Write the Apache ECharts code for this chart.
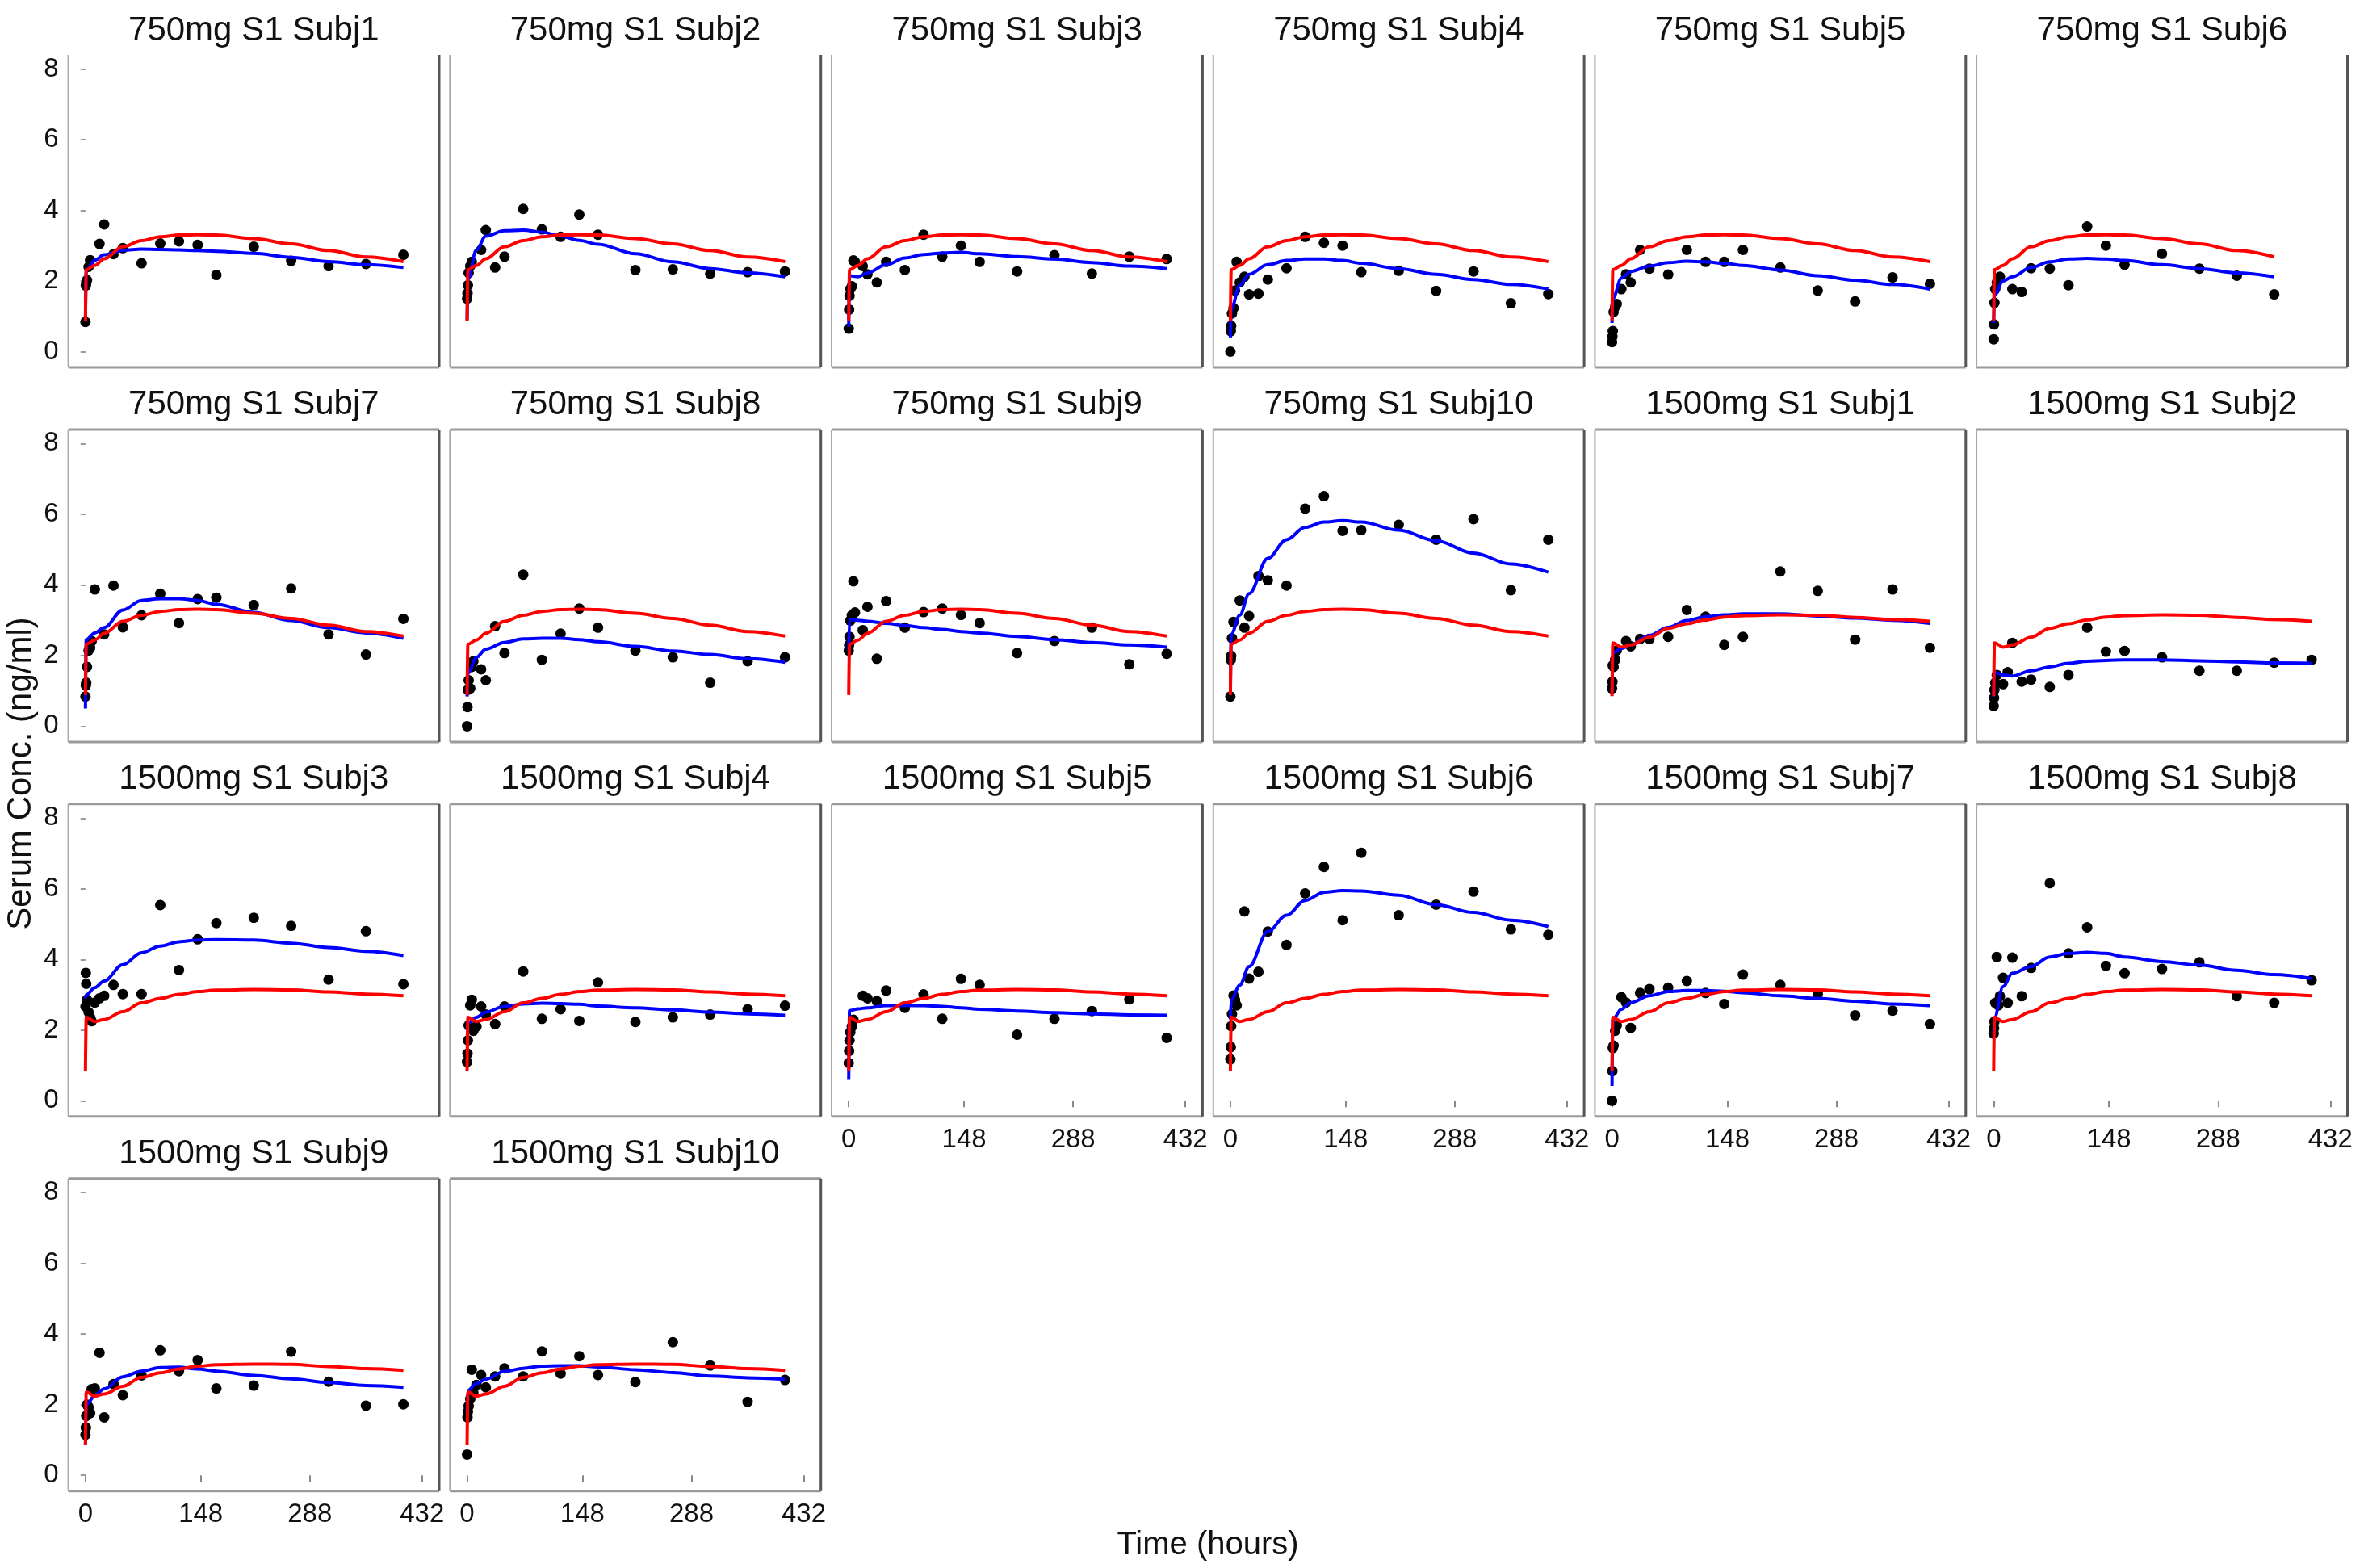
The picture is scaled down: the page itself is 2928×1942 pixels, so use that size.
<!DOCTYPE html>
<html><head><meta charset="utf-8">
<script src="https://cdn.jsdelivr.net/npm/echarts@6/dist/echarts.min.js"></script>
<style>html,body{margin:0;padding:0;background:#fff}#chart{width:2928px;height:1942px}</style>
</head><body><div id="chart"></div>
<script>
// sampling times (hours) of observed concentrations
const TIMES = [0, 0.5, 1, 2, 4, 6, 8, 12, 18, 24, 36, 48, 72, 96, 120, 144, 168, 216, 264, 312, 360, 408];
// times for the model curves
const LINE_T = [0, 1, 12, 24, 48, 72, 96, 120, 144, 168, 216, 264, 312, 360, 408];
const X_TICKS = [0, 148, 288, 432];
const Y_TICKS = [0, 2, 4, 6, 8];

// population predictions (red)
const POP_750  = [0.88, 2.32, 2.44, 2.63, 2.97, 3.14, 3.25, 3.30, 3.31, 3.30, 3.20, 3.05, 2.86, 2.68, 2.55];
const POP_1500 = [0.85, 2.36, 2.24, 2.30, 2.52, 2.77, 2.90, 3.01, 3.09, 3.13, 3.15, 3.14, 3.08, 3.02, 2.97];

// observed concentrations (black points)
const OBS_750_1  = [0.84, 1.87, 1.94, 2.02, 2.40, 2.59, null, null, 3.05, 3.60, 2.76, 2.93, 2.50, 3.06, 3.12, 3.02, 2.17, 2.97, 2.57, 2.42, 2.48, 2.74];
const OBS_750_2  = [1.50, 1.65, 1.88, 2.23, 2.42, 2.54, null, null, 2.88, 3.44, 2.38, 2.69, 4.04, 3.46, 3.25, 3.88, 3.31, 2.31, 2.33, 2.21, 2.25, 2.27];
const OBS_750_3  = [0.65, 1.19, 1.58, 1.77, 1.85, 2.58, 2.54, null, 2.42, 2.19, 1.96, 2.54, 2.31, 3.31, 2.69, 3.00, 2.54, 2.27, 2.73, 2.21, 2.69, 2.62];
const OBS_750_4  = [0.00, 0.58, 0.73, 1.08, 1.23, 1.73, 2.54, 1.96, 2.12, 1.62, 1.64, 2.04, 2.36, 3.25, 3.08, 3.00, 2.25, 2.29, 1.72, 2.27, 1.37, 1.63];
const OBS_750_5  = [0.27, 0.42, 0.58, 1.12, 1.27, 1.35, null, 1.77, 2.19, 1.96, 2.88, 2.35, 2.18, 2.88, 2.54, 2.54, 2.88, 2.38, 1.73, 1.42, 2.10, 1.92];
const OBS_750_6  = [0.35, 0.77, 1.38, 1.77, 1.96, 2.04, 2.12, null, null, 1.77, 1.69, 2.36, 2.35, 1.88, 3.54, 3.00, 2.46, 2.77, 2.35, 2.15, 1.62, null];
const OBS_750_7  = [0.84, 1.15, 1.23, 1.68, 2.14, 2.22, 2.41, 3.87, null, 2.60, 3.98, 2.80, 3.14, 3.75, 2.92, 3.60, 3.64, 3.43, 3.90, 2.60, 2.03, 3.04];
const OBS_750_8  = [0.00, 0.54, 1.03, 1.30, 1.07, 1.68, 1.84, null, 1.61, 1.30, 2.83, 2.07, 4.29, 1.88, 2.62, 3.33, 2.79, 2.14, 1.95, 1.23, 1.84, 1.95];
const OBS_750_9  = [2.14, 2.30, 2.53, 2.99, 3.14, 4.10, 3.22, null, 2.72, 3.38, 1.91, 3.54, 2.79, 3.23, 3.33, 3.15, 2.92, 2.07, 2.41, 2.79, 1.75, 2.05];
const OBS_750_10 = [0.84, 1.88, 1.99, 2.49, 2.95, null, null, 3.56, 2.79, 3.12, 4.25, 4.13, 3.98, 6.16, 6.51, 5.53, 5.55, 5.70, 5.28, 5.86, 3.85, 5.28];
const OBS_1500_1  = [1.07, 1.26, 1.72, 1.68, 1.88, 2.14, null, null, 2.41, 2.26, 2.47, 2.47, 2.53, 3.29, 3.10, 2.30, 2.53, 4.38, 3.83, 2.45, 3.87, 2.22];
const OBS_1500_2  = [0.57, 0.80, 1.03, 1.23, 1.45, null, null, 1.19, 1.53, 2.36, 1.26, 1.32, 1.11, 1.45, 2.79, 2.11, 2.13, 1.95, 1.57, 1.57, 1.80, 1.88];
const OBS_1500_3  = [2.67, 3.62, 3.31, 2.86, 2.51, 2.36, 2.25, 2.78, 2.90, 2.97, 3.28, 3.02, 3.02, 5.54, 3.70, 4.57, 5.03, 5.18, 4.95, 3.43, 4.80, 3.30];
const OBS_1500_4  = [1.10, 1.33, 1.71, 2.13, 2.70, 2.86, 1.98, 2.10, 2.67, 2.44, 2.17, 2.67, 3.66, 2.32, 2.59, 2.26, 3.35, 2.23, 2.36, 2.44, 2.59, 2.69];
const OBS_1500_5  = [1.07, 1.41, 1.71, 1.94, 2.10, 2.29, null, null, 2.97, 2.90, 2.82, 3.12, 2.63, 3.01, 2.32, 3.45, 3.28, 1.87, 2.32, 2.54, 2.87, 1.78];
const OBS_1500_6  = [1.17, 1.52, 2.11, 2.45, 2.98, 2.85, 2.70, null, 5.36, 3.46, 3.65, 4.79, 4.41, 5.87, 6.62, 5.11, 7.02, 5.25, 5.55, 5.92, 4.85, 4.70];
const OBS_1500_7  = [0.00, 0.84, 1.49, 1.56, 1.98, 2.13, null, 2.93, 2.78, 2.06, 3.05, 3.16, 3.20, 3.39, 3.05, 2.74, 3.57, 3.28, 3.02, 2.42, 2.55, 2.17];
const OBS_1500_8  = [1.90, 2.05, 2.24, 2.77, 4.07, 2.70, 2.96, 3.48, 2.77, 4.05, 2.96, 3.76, 6.16, 4.17, 4.91, 3.82, 3.61, 3.73, 3.92, 2.96, 2.77, 3.41];
const OBS_1500_9  = [1.15, 1.35, 1.68, 2.00, 1.93, 1.76, 2.44, 2.46, 3.47, 1.64, 2.58, 2.27, 2.83, 3.54, 2.95, 3.26, 2.46, 2.54, 3.50, 2.65, 1.97, 2.01];
const OBS_1500_10 = [0.59, 1.64, 1.80, 1.96, 2.16, 2.99, 2.34, 2.56, 2.84, 2.49, 2.80, 3.03, 2.80, 3.51, 2.88, 3.37, 2.84, 2.64, 3.77, 3.11, 2.08, 2.70];

// individual predictions (blue)
const IND_750_1  = [0.88, 2.30, 2.59, 2.74, 2.87, 2.90, 2.89, 2.88, 2.86, 2.84, 2.78, 2.67, 2.55, 2.46, 2.38];
const IND_750_2  = [0.90, 2.04, 2.88, 3.27, 3.42, 3.44, 3.38, 3.27, 3.15, 3.04, 2.77, 2.54, 2.35, 2.23, 2.12];
const IND_750_3  = [0.70, 2.15, 2.12, 2.23, 2.46, 2.65, 2.75, 2.79, 2.81, 2.77, 2.69, 2.62, 2.52, 2.42, 2.35];
const IND_750_4  = [0.38, 1.20, 1.88, 2.19, 2.46, 2.58, 2.62, 2.62, 2.58, 2.50, 2.35, 2.19, 2.04, 1.90, 1.77];
const IND_750_5  = [0.81, 1.50, 2.08, 2.27, 2.42, 2.52, 2.56, 2.54, 2.50, 2.44, 2.31, 2.15, 2.02, 1.90, 1.77];
const IND_750_6  = [0.81, 1.60, 2.00, 2.12, 2.38, 2.54, 2.62, 2.64, 2.62, 2.58, 2.46, 2.35, 2.23, 2.12, null];
const IND_750_7  = [0.50, 2.45, 2.64, 2.79, 3.29, 3.56, 3.61, 3.61, 3.56, 3.45, 3.22, 2.99, 2.79, 2.64, 2.49];
const IND_750_8  = [0.84, 1.50, 1.95, 2.18, 2.37, 2.47, 2.49, 2.49, 2.45, 2.39, 2.26, 2.13, 2.03, 1.91, 1.81];
const IND_750_9  = [2.14, 3.02, 3.00, 2.97, 2.91, 2.85, 2.79, 2.74, 2.68, 2.64, 2.54, 2.45, 2.37, 2.30, 2.24];
const IND_750_10 = [0.90, 2.60, 3.14, 3.75, 4.75, 5.28, 5.63, 5.78, 5.82, 5.78, 5.55, 5.25, 4.90, 4.59, 4.36];
const IND_1500_1  = [0.90, 2.07, 2.20, 2.30, 2.57, 2.80, 2.99, 3.10, 3.15, 3.18, 3.18, 3.12, 3.06, 3.00, 2.91];
const IND_1500_2  = [0.84, 1.53, 1.45, 1.42, 1.57, 1.68, 1.78, 1.84, 1.86, 1.88, 1.88, 1.85, 1.82, 1.79, 1.78];
const IND_1500_3  = [2.90, 3.00, 3.20, 3.39, 3.85, 4.19, 4.38, 4.50, 4.55, 4.56, 4.55, 4.46, 4.34, 4.23, 4.11];
const IND_1500_4  = [2.00, 2.20, 2.36, 2.51, 2.67, 2.74, 2.76, 2.75, 2.73, 2.68, 2.63, 2.57, 2.51, 2.46, 2.42];
const IND_1500_5  = [0.61, 2.55, 2.60, 2.63, 2.69, 2.70, 2.69, 2.67, 2.63, 2.59, 2.54, 2.49, 2.46, 2.43, 2.42];
const IND_1500_6  = [2.30, 2.85, 3.27, 3.80, 4.79, 5.25, 5.67, 5.90, 5.95, 5.94, 5.82, 5.55, 5.33, 5.11, 4.93];
const IND_1500_7  = [0.42, 2.30, 2.59, 2.78, 2.97, 3.09, 3.12, 3.12, 3.10, 3.06, 2.97, 2.90, 2.82, 2.74, 2.69];
const IND_1500_8  = [1.90, 2.35, 3.23, 3.61, 3.80, 4.07, 4.17, 4.20, 4.17, 4.07, 3.94, 3.84, 3.69, 3.57, 3.46];
const IND_1500_9  = [0.86, 2.00, 2.25, 2.45, 2.79, 2.95, 3.05, 3.06, 3.01, 2.95, 2.83, 2.73, 2.63, 2.54, 2.49];
const IND_1500_10 = [1.80, 2.40, 2.60, 2.72, 2.94, 3.03, 3.09, 3.10, 3.10, 3.07, 2.99, 2.91, 2.81, 2.76, 2.72];

// subject 6 (750 mg) was followed only up to 360 h
const POP_750_S6 = POP_750.map((v, k) => LINE_T[k] > 360 ? null : v);

const PANELS = [
  ['750mg S1 Subj1', OBS_750_1, IND_750_1, POP_750],
  ['750mg S1 Subj2', OBS_750_2, IND_750_2, POP_750],
  ['750mg S1 Subj3', OBS_750_3, IND_750_3, POP_750],
  ['750mg S1 Subj4', OBS_750_4, IND_750_4, POP_750],
  ['750mg S1 Subj5', OBS_750_5, IND_750_5, POP_750],
  ['750mg S1 Subj6', OBS_750_6, IND_750_6, POP_750_S6],
  ['750mg S1 Subj7', OBS_750_7, IND_750_7, POP_750],
  ['750mg S1 Subj8', OBS_750_8, IND_750_8, POP_750],
  ['750mg S1 Subj9', OBS_750_9, IND_750_9, POP_750],
  ['750mg S1 Subj10', OBS_750_10, IND_750_10, POP_750],
  ['1500mg S1 Subj1', OBS_1500_1, IND_1500_1, POP_1500],
  ['1500mg S1 Subj2', OBS_1500_2, IND_1500_2, POP_1500],
  ['1500mg S1 Subj3', OBS_1500_3, IND_1500_3, POP_1500],
  ['1500mg S1 Subj4', OBS_1500_4, IND_1500_4, POP_1500],
  ['1500mg S1 Subj5', OBS_1500_5, IND_1500_5, POP_1500],
  ['1500mg S1 Subj6', OBS_1500_6, IND_1500_6, POP_1500],
  ['1500mg S1 Subj7', OBS_1500_7, IND_1500_7, POP_1500],
  ['1500mg S1 Subj8', OBS_1500_8, IND_1500_8, POP_1500],
  ['1500mg S1 Subj9', OBS_1500_9, IND_1500_9, POP_1500],
  ['1500mg S1 Subj10', OBS_1500_10, IND_1500_10, POP_1500]
];
</script>
<script>
const FONT = '"Liberation Sans", Arial, sans-serif';
const L0 = 84.6, DX = 472.7, W = 459.4, T0 = 68, DY = 463.9, H = 387;
const XMIN = -22, XMAX = 454, YMIN = -0.446, YMAX = 8.4;

const grids = [], xAxes = [], yAxes = [], series = [], graphics = [];
const pairs = (ts, vs) => ts.map((t, k) => [t, vs[k]]).filter(d => d[1] != null);

PANELS.forEach((p, i) => {
  const [title, obs, ind, pop] = p;
  const r = Math.floor(i / 6), c = i % 6;
  const left = L0 + DX * c, top = T0 + DY * r;
  const showX = (r === 3) || (r === 2 && c >= 2);
  const showY = c === 0;
  grids.push({ left, top, width: W, height: H, show: false, containLabel: false });
  xAxes.push({
    type: 'value', gridIndex: i, min: XMIN, max: XMAX,
    axisLine: { show: false }, splitLine: { show: false },
    axisTick: { show: showX, customValues: X_TICKS, length: 8, lineStyle: { color: '#8a8a8a', width: 2 } },
    axisLabel: { show: showX, customValues: X_TICKS, fontSize: 33, color: '#111', fontFamily: FONT, margin: 13 }
  });
  yAxes.push({
    type: 'value', gridIndex: i, min: YMIN, max: YMAX,
    axisLine: { show: false }, splitLine: { show: false },
    axisTick: { show: showY, customValues: Y_TICKS, length: 6, lineStyle: { color: '#9a9a9a', width: 2 } },
    axisLabel: { show: showY, customValues: Y_TICKS, fontSize: 33, color: '#111', fontFamily: FONT, margin: 12 }
  });
  series.push({
    type: 'line', xAxisIndex: i, yAxisIndex: i, data: pairs(LINE_T, ind),
    showSymbol: false, smooth: 0.35, smoothMonotone: 'x', lineStyle: { color: '#0000ff', width: 4 }, silent: true
  });
  series.push({
    type: 'line', xAxisIndex: i, yAxisIndex: i, data: pairs(LINE_T, pop),
    showSymbol: false, smooth: 0.35, smoothMonotone: 'x', lineStyle: { color: '#ff0000', width: 4 }, silent: true
  });
  series.push({
    type: 'scatter', xAxisIndex: i, yAxisIndex: i, data: pairs(TIMES, obs),
    symbol: 'circle', symbolSize: 13, itemStyle: { color: '#000', opacity: 1 }, silent: true
  });
  // panel border
  const right = left + W, bottom = top + H;
  if (r > 0) graphics.push({ type: 'line', silent: true, shape: { x1: left, y1: top, x2: right, y2: top }, style: { stroke: '#9a9a9a', lineWidth: 3 } });
  graphics.push({ type: 'line', silent: true, shape: { x1: left, y1: bottom, x2: right, y2: bottom }, style: { stroke: '#9a9a9a', lineWidth: 3 } });
  graphics.push({ type: 'line', silent: true, shape: { x1: left, y1: top, x2: left, y2: bottom }, style: { stroke: '#a8a8a8', lineWidth: 2 } });
  graphics.push({ type: 'line', silent: true, shape: { x1: right, y1: top, x2: right, y2: bottom }, style: { stroke: '#555', lineWidth: 3 } });
  // strip title
  graphics.push({ type: 'text', silent: true, x: left + W / 2, y: top - 30,
    style: { text: title, font: '42px ' + FONT, fill: '#111', textAlign: 'center', textVerticalAlign: 'middle', align: 'center', verticalAlign: 'middle' } });
});

graphics.push({ type: 'text', silent: true, x: 26, y: 958, rotation: Math.PI / 2,
  style: { text: 'Serum Conc. (ng/ml)', font: '42px ' + FONT, fill: '#111', textAlign: 'center', textVerticalAlign: 'middle', align: 'center', verticalAlign: 'middle' } });
graphics.push({ type: 'text', silent: true, x: 1496, y: 1914,
  style: { text: 'Time (hours)', font: '40px ' + FONT, fill: '#111', textAlign: 'center', textVerticalAlign: 'middle', align: 'center', verticalAlign: 'middle' } });

const chart = echarts.init(document.getElementById('chart'), null, { renderer: 'canvas', width: 2928, height: 1942 });
chart.setOption({
  animation: false, backgroundColor: '#ffffff',
  grid: grids, xAxis: xAxes, yAxis: yAxes, series: series, graphic: { elements: graphics }
});
</script>
</body></html>
